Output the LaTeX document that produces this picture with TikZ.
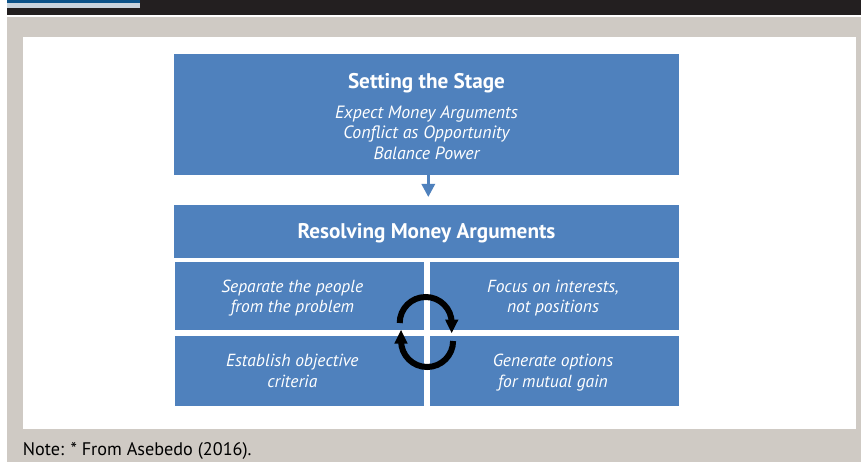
\documentclass[tikz,border=0pt]{standalone}
\usepackage{fontspec}
\setmainfont{PT Sans}
\usetikzlibrary{arrows.meta}
\definecolor{boxblue}{HTML}{4F81BD}
\definecolor{bggray}{HTML}{CFCAC4}
\definecolor{barDark}{HTML}{231F20}
\definecolor{stripBlue}{HTML}{0B5289}
\definecolor{stripLight}{HTML}{C9D4DE}
\tikzset{
  bluebox/.style={fill=boxblue, draw=none, inner sep=0pt},
  titletext/.style={text=white, font=\fontsize{21.2}{24}\selectfont\bfseries, anchor=base, inner sep=0pt},
  itext/.style={text=white, font=\fontsize{17.8}{20}\selectfont\itshape, anchor=base, inner sep=0pt},
  qtext/.style={text=white, font=\fontsize{17.5}{20}\selectfont\itshape, anchor=base, inner sep=0pt},
  ring/.style={line width=6pt, draw=black},
}
\begin{document}
\begin{tikzpicture}[x=1pt,y=-1pt]
\useasboundingbox (0,0) rectangle (861,462);
% header and background
\fill[barDark] (6.5,0) rectangle (861,14.7);
\fill[stripBlue] (6.5,0) rectangle (139.5,3);
\fill[stripLight] (6.5,3) rectangle (139.5,8);
\fill[bggray] (6.5,17.3) rectangle (861,462);
\fill[white] (22.7,37) rectangle (856,429);
% boxes
\path[bluebox] (174,54) rectangle (679,175) node[pos=0.5] (stage) {};
\coordinate (stageS) at (428.3,175);
\node[titletext] (t1) at (426.5,88.3) {Setting the Stage};
\node[itext] (l1) at (426.5,118.3) {Expect Money Arguments};
\node[itext] (l2) at (426.5,139) {Conflict as Opportunity};
\node[itext] (l3) at (426.5,159.3) {Balance Power};
\path[bluebox] (174,205) rectangle (679,257.7) node[pos=0.5] (resolve) {};
\node[titletext] (t2) at (426.5,238.3) {Resolving Money Arguments};
\coordinate (atip) at (428.3,197);
\draw[boxblue, line width=3pt, -{Triangle[length=13pt,width=13pt]}] (stageS) -- (atip);
% quadrants
\path[bluebox] (174.5,262.3) rectangle (424.3,330) node[pos=0.5] (q1) {};
\path[bluebox] (429.5,262.3) rectangle (679,330) node[pos=0.5] (q2) {};
\path[bluebox] (174.5,335.7) rectangle (424.3,405.5) node[pos=0.5] (q3) {};
\path[bluebox] (429.5,335.7) rectangle (679,405.5) node[pos=0.5] (q4) {};
\node[qtext] (q1a) at (292.3,292.7) {Separate the people};
\node[qtext] (q1b) at (292.3,312.7) {from the problem};
\node[qtext] (q2a) at (553,292.7) {Focus on interests,};
\node[qtext] (q2b) at (553,312.7) {not positions};
\node[qtext] (q3a) at (292.3,366.7) {Establish objective};
\node[qtext] (q3b) at (292.3,387.3) {criteria};
\node[qtext] (q4a) at (553,366.7) {Generate options};
\node[qtext] (q4b) at (553,387.3) {for mutual gain};
% cycle arrows
\draw[ring] (399.7,323) arc[start angle=180, end angle=360, radius=26];
\fill[black] (445,319.5) -- (458.5,319.5) -- (451.7,333) -- cycle;
\draw[ring] (453.1,341) arc[start angle=0, end angle=180, radius=26];
\fill[black] (394.3,343.5) -- (407.7,343.5) -- (401,330) -- cycle;
% note
\node[anchor=base west, inner sep=0pt, font=\fontsize{18.2}{20}\selectfont] (note) at (22.7,455) {Note: * From Asebedo (2016).};
\end{tikzpicture}
\end{document}
